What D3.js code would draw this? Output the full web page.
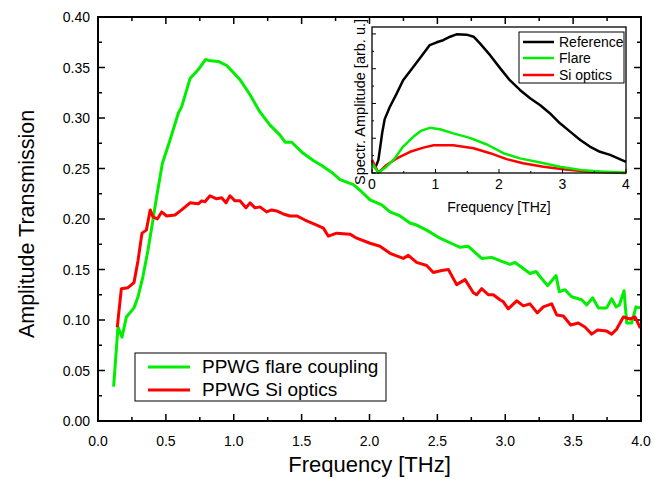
<!DOCTYPE html>
<html>
<head>
<meta charset="utf-8">
<script src="https://cdn.jsdelivr.net/npm/d3@7"></script>
<style>
  body { margin: 0; background: #fff; }
  svg { display: block; font-family: "Liberation Sans", Arial, sans-serif; }
</style>
</head>
<body>
<div id="chart"></div>
<script>
// main chart: amplitude transmission
const flareFreq = [0.115, 0.147, 0.177, 0.209, 0.265, 0.295, 0.331, 0.368, 0.40, 0.432, 0.474, 0.530, 0.592, 0.616, 0.678, 0.739, 0.793, 0.813, 0.886, 0.948,
  1.046, 1.120, 1.193, 1.267, 1.341, 1.378, 1.427, 1.488, 1.512, 1.586, 1.648, 1.733, 1.783, 1.881, 1.942, 2.004, 2.090, 2.151, 2.225, 2.298,
  2.347, 2.421, 2.519, 2.617, 2.667, 2.728, 2.826, 2.900, 2.974, 3.035, 3.072, 3.133, 3.182, 3.227, 3.268, 3.313, 3.374, 3.398, 3.440, 3.489,
  3.538, 3.563, 3.600, 3.644, 3.686, 3.747, 3.784, 3.816, 3.841, 3.875, 3.895, 3.931, 3.963, 4.000];
const flareAmp = [0.034, 0.093, 0.083, 0.103, 0.112, 0.123, 0.143, 0.169, 0.195, 0.222, 0.255, 0.278, 0.305, 0.311, 0.339, 0.348, 0.358, 0.357, 0.356, 0.352,
  0.338, 0.323, 0.306, 0.293, 0.283, 0.276, 0.276, 0.268, 0.265, 0.258, 0.253, 0.245, 0.239, 0.234, 0.227, 0.219, 0.214, 0.207, 0.203, 0.196,
  0.194, 0.189, 0.181, 0.175, 0.172, 0.173, 0.161, 0.162, 0.158, 0.155, 0.157, 0.151, 0.146, 0.148, 0.141, 0.134, 0.144, 0.128, 0.130, 0.123,
  0.121, 0.120, 0.115, 0.122, 0.112, 0.112, 0.121, 0.113, 0.115, 0.129, 0.097, 0.097, 0.113, 0.112];

const siFreq = [0.142, 0.172, 0.221, 0.265, 0.295, 0.324, 0.356, 0.385, 0.405, 0.437, 0.469, 0.506, 0.567, 0.616, 0.678, 0.739, 0.764, 0.788, 0.825, 0.874,
  0.911, 0.943, 0.972, 1.009, 1.046, 1.090, 1.120, 1.157, 1.193, 1.242, 1.279, 1.316, 1.365, 1.414, 1.464, 1.525, 1.611, 1.660, 1.697, 1.758,
  1.856, 1.906, 2.004, 2.077, 2.151, 2.249, 2.286, 2.347, 2.421, 2.470, 2.532, 2.581, 2.642, 2.704, 2.765, 2.789, 2.826, 2.875, 2.912, 2.961,
  2.986, 3.022, 3.084, 3.133, 3.182, 3.236, 3.280, 3.342, 3.379, 3.428, 3.482, 3.538, 3.587, 3.637, 3.678, 3.747, 3.784, 3.821, 3.870, 3.919,
  3.956, 3.995];
const siAmp = [0.093, 0.131, 0.132, 0.137, 0.159, 0.186, 0.189, 0.209, 0.202, 0.200, 0.207, 0.203, 0.204, 0.209, 0.216, 0.215, 0.218, 0.217, 0.223, 0.220,
  0.221, 0.216, 0.223, 0.218, 0.218, 0.211, 0.216, 0.211, 0.212, 0.207, 0.209, 0.208, 0.205, 0.203, 0.203, 0.199, 0.194, 0.191, 0.183, 0.186,
  0.185, 0.181, 0.176, 0.173, 0.166, 0.161, 0.164, 0.157, 0.154, 0.147, 0.149, 0.150, 0.135, 0.140, 0.127, 0.125, 0.131, 0.125, 0.125, 0.120,
  0.118, 0.111, 0.119, 0.114, 0.116, 0.107, 0.113, 0.116, 0.105, 0.104, 0.095, 0.097, 0.093, 0.086, 0.090, 0.089, 0.086, 0.091, 0.103, 0.101,
  0.103, 0.092];

const xTicks = [0, 0.5, 1, 1.5, 2, 2.5, 3, 3.5, 4];
const yTicks = [0, 0.05, 0.1, 0.15, 0.2, 0.25, 0.3, 0.35, 0.4];

// inset: spectra
const insetRefFreq = [0, 0.05, 0.10, 0.13, 0.16, 0.20, 0.28, 0.39, 0.49, 0.65, 0.81, 0.91, 1.02, 1.12, 1.23, 1.33, 1.49, 1.60, 1.70, 1.86, 2.02,
  2.17, 2.33, 2.49, 2.65, 2.80, 2.96, 3.12, 3.28, 3.43, 3.59, 3.75, 4.0];
const insetRefAmp = [0.35, 0.14, 0.37, 0.75, 1.15, 1.55, 1.90, 2.29, 2.67, 3.05, 3.44, 3.68, 3.76, 3.82, 3.92, 3.99, 3.98, 3.92, 3.73, 3.39, 3.01,
  2.67, 2.39, 2.15, 1.95, 1.72, 1.43, 1.19, 0.95, 0.76, 0.61, 0.52, 0.32];
const insetFlareFreq = [0, 0.1, 0.23, 0.36, 0.49, 0.65, 0.78, 0.91, 1.07, 1.28, 1.54, 1.81, 2.07, 2.33, 2.65, 2.96, 3.28, 3.59, 4.0];
const insetFlareAmp = [0.28, 0.01, 0.18, 0.42, 0.76, 1.04, 1.22, 1.30, 1.26, 1.14, 1.01, 0.82, 0.57, 0.42, 0.30, 0.18, 0.09, 0.04, 0.01];
const insetSiFreq = [0, 0.1, 0.23, 0.39, 0.60, 0.81, 0.97, 1.28, 1.60, 1.86, 2.12, 2.38, 2.70, 3.01, 3.38, 4.0];
const insetSiAmp = [0.38, 0.01, 0.23, 0.42, 0.61, 0.73, 0.80, 0.80, 0.71, 0.57, 0.40, 0.28, 0.18, 0.11, 0.04, 0.0];
const insetXTicks = [0, 1, 2, 3, 4];

const W = 654, H = 479;
const m = { left: 98, right: 641, top: 17, bottom: 421 };
const green = '#00ee00', red = '#ff0000';

const svg = d3.select('#chart').append('svg')
  .attr('width', W).attr('height', H);
svg.append('rect').attr('width', W).attr('height', H).attr('fill', '#fff');

const x = d3.scaleLinear().domain([0, 4]).range([m.left, m.right]);
const y = d3.scaleLinear().domain([0, 0.4]).range([m.bottom, m.top]);

// ticks on all four sides, pointing inwards
const xMinor = d3.range(0, 4 + 1e-9, 0.25);
const yMinor = d3.range(0, 0.4 + 1e-9, 0.025);

const tickG = svg.append('g').attr('stroke', '#000').attr('stroke-width', 1.5);
xMinor.forEach((v, i) => {
  const len = i % 2 === 0 ? 7 : 4;
  tickG.append('line').attr('x1', x(v)).attr('x2', x(v)).attr('y1', m.bottom).attr('y2', m.bottom - len);
  tickG.append('line').attr('x1', x(v)).attr('x2', x(v)).attr('y1', m.top).attr('y2', m.top + len);
});
yMinor.forEach((v, i) => {
  const len = i % 2 === 0 ? 7 : 4;
  tickG.append('line').attr('y1', y(v)).attr('y2', y(v)).attr('x1', m.left).attr('x2', m.left + len);
  tickG.append('line').attr('y1', y(v)).attr('y2', y(v)).attr('x1', m.right).attr('x2', m.right - len);
});

svg.append('g').selectAll('text')
  .data(xTicks).enter().append('text')
  .attr('x', d => x(d)).attr('y', 446)
  .attr('text-anchor', 'middle').attr('font-size', 14)
  .text(d => d3.format('.1f')(d));

svg.append('g').selectAll('text')
  .data(yTicks).enter().append('text')
  .attr('x', 90).attr('y', d => y(d) + 5)
  .attr('text-anchor', 'end').attr('font-size', 14)
  .text(d => d3.format('.2f')(d));

svg.append('text')
  .attr('x', (m.left + m.right) / 2).attr('y', 472)
  .attr('text-anchor', 'middle').attr('font-size', 22)
  .text('Frequency [THz]');

svg.append('text')
  .attr('transform', 'translate(34,224) rotate(-90)')
  .attr('text-anchor', 'middle').attr('font-size', 21.5)
  .text('Amplitude Transmission');

// main curves
const line = d3.line().x(d => x(d[0])).y(d => y(d[1]));
svg.append('path')
  .datum(d3.zip(flareFreq, flareAmp))
  .attr('d', line).attr('fill', 'none')
  .attr('stroke', green).attr('stroke-width', 3).attr('stroke-linejoin', 'round');
svg.append('path')
  .datum(d3.zip(siFreq, siAmp))
  .attr('d', line).attr('fill', 'none')
  .attr('stroke', red).attr('stroke-width', 3).attr('stroke-linejoin', 'round');

// frame
svg.append('rect')
  .attr('x', m.left).attr('y', m.top)
  .attr('width', m.right - m.left).attr('height', m.bottom - m.top)
  .attr('fill', 'none').attr('stroke', '#000').attr('stroke-width', 2);

// main legend
const leg = svg.append('g');
leg.append('rect').attr('x', 135).attr('y', 353).attr('width', 251).attr('height', 48)
  .attr('fill', '#fff').attr('stroke', '#000').attr('stroke-width', 1);
[['PPWG flare coupling', green, 367], ['PPWG Si optics', red, 390]].forEach(d => {
  leg.append('line').attr('x1', 148).attr('x2', 190).attr('y1', d[2]).attr('y2', d[2])
    .attr('stroke', d[1]).attr('stroke-width', 3);
  leg.append('text').attr('x', 202).attr('y', d[2] + 6).attr('font-size', 19).text(d[0]);
});

// inset
const ins = { left: 372, right: 626, top: 27, bottom: 173 };
const ix = d3.scaleLinear().domain([0, 4]).range([ins.left, ins.right]);
const iy = d3.scaleLinear().domain([0, 4.2]).range([ins.bottom, ins.top]);
const inset = svg.append('g');
inset.append('rect')
  .attr('x', ins.left).attr('y', ins.top)
  .attr('width', ins.right - ins.left).attr('height', ins.bottom - ins.top)
  .attr('fill', '#fff');

const iline = d3.line().x(d => ix(d[0])).y(d => iy(d[1]));
[[insetRefFreq, insetRefAmp, '#000'], [insetSiFreq, insetSiAmp, red], [insetFlareFreq, insetFlareAmp, green]].forEach(s => {
  inset.append('path')
    .datum(d3.zip(s[0], s[1]))
    .attr('d', iline).attr('fill', 'none')
    .attr('stroke', s[2]).attr('stroke-width', 2.5).attr('stroke-linejoin', 'round');
});

const itick = inset.append('g').attr('stroke', '#000').attr('stroke-width', 1);
d3.range(0, 4.01, 0.5).forEach((v, i) => {
  const len = i % 2 === 0 ? 4 : 2;
  itick.append('line').attr('x1', ix(v)).attr('x2', ix(v)).attr('y1', ins.bottom).attr('y2', ins.bottom - len);
});
d3.range(0, 4.2, 0.5).forEach((v, i) => {
  const len = i % 2 === 0 ? 4 : 2;
  itick.append('line').attr('y1', iy(v)).attr('y2', iy(v)).attr('x1', ins.left).attr('x2', ins.left + len);
});
inset.append('rect')
  .attr('x', ins.left).attr('y', ins.top)
  .attr('width', ins.right - ins.left).attr('height', ins.bottom - ins.top)
  .attr('fill', 'none').attr('stroke', '#000').attr('stroke-width', 1.3);

inset.selectAll('.ixl')
  .data(insetXTicks).enter().append('text')
  .attr('x', d => ix(d)).attr('y', 189)
  .attr('text-anchor', 'middle').attr('font-size', 14)
  .text(d => d);
inset.append('text')
  .attr('x', (ins.left + ins.right) / 2).attr('y', 212)
  .attr('text-anchor', 'middle').attr('font-size', 14)
  .text('Frequency [THz]');
inset.append('text')
  .attr('transform', 'translate(365,102) rotate(-90)')
  .attr('text-anchor', 'middle').attr('font-size', 14.5)
  .text('Spectr. Amplitude [arb. u.]');

// inset legend
const ileg = inset.append('g');
ileg.append('rect').attr('x', 519).attr('y', 32).attr('width', 105).attr('height', 51)
  .attr('fill', '#fff').attr('stroke', '#000').attr('stroke-width', 1);
[['Reference', '#000', 42], ['Flare', green, 58], ['Si optics', red, 75]].forEach(d => {
  ileg.append('line').attr('x1', 523).attr('x2', 554).attr('y1', d[2]).attr('y2', d[2])
    .attr('stroke', d[1]).attr('stroke-width', 2.5);
  ileg.append('text').attr('x', 559).attr('y', d[2] + 5).attr('font-size', 14).text(d[0]);
});
</script>
</body>
</html>
